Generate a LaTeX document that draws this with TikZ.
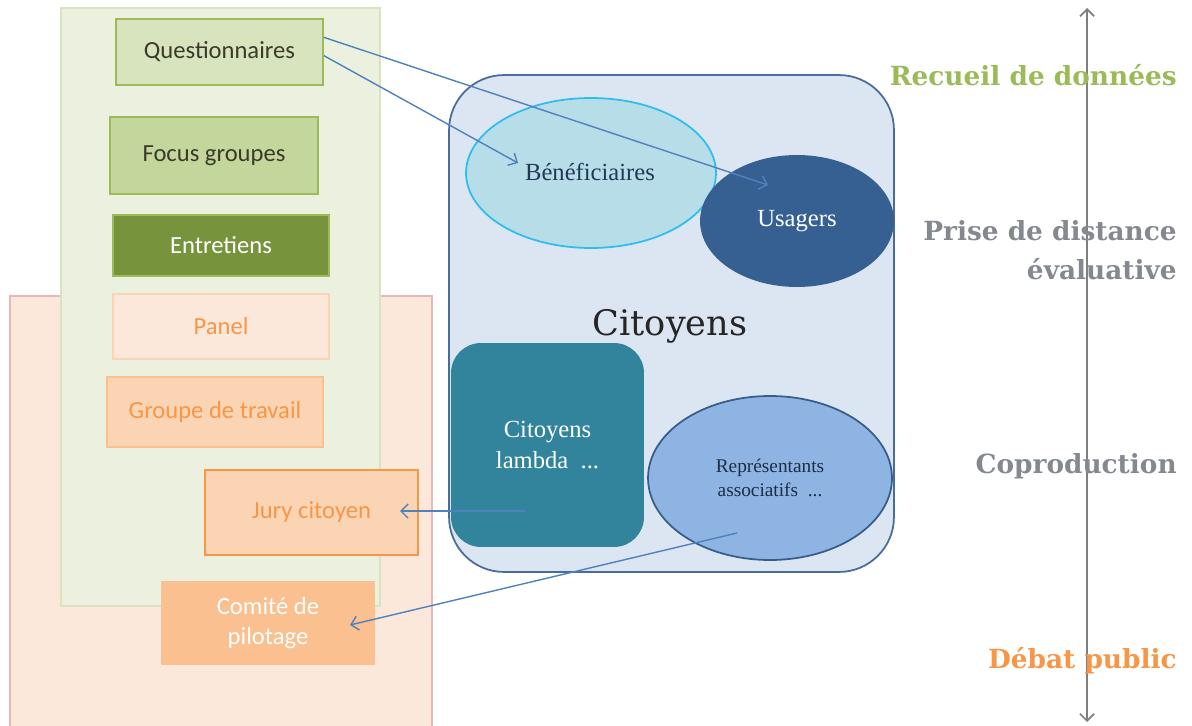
\documentclass[tikz,border=0pt]{standalone}
\usepackage{fontspec}
\setmainfont{Carlito}
\newfontfamily\capfont{DejaVu Serif}
\newfontfamily\innerfont{Liberation Serif}
\usepackage{xcolor}
\usepackage{tikz}
\usetikzlibrary{shapes.geometric,arrows.meta}

\definecolor{greenbg}{HTML}{EBF1DE}
\definecolor{greenline}{HTML}{D7E4BD}
\definecolor{greenmid}{HTML}{9BBB59}
\definecolor{greenlight}{HTML}{D7E4BD}
\definecolor{greenfocus}{HTML}{C3D69B}
\definecolor{greendark}{HTML}{77933C}
\definecolor{orangebg}{HTML}{FCE8DA}
\definecolor{orangeline}{HTML}{E6B9B8}
\definecolor{orangetext}{HTML}{F79646}
\definecolor{orangelight}{HTML}{FBD4B4}
\definecolor{orangemid}{HTML}{FAC090}
\definecolor{citbg}{HTML}{DCE6F2}
\definecolor{citline}{HTML}{4A6C9B}
\definecolor{benefill}{HTML}{B7DEE8}
\definecolor{benefline}{HTML}{2DBDF0}
\definecolor{usagerfill}{HTML}{376092}
\definecolor{lambdafill}{HTML}{31849B}
\definecolor{repfill}{HTML}{8EB4E3}
\definecolor{repline}{HTML}{385D8A}
\definecolor{arrowblue}{HTML}{4F81BD}
\definecolor{stagegray}{HTML}{84898F}
\definecolor{axisgray}{HTML}{7F7F7F}
\definecolor{boxtext}{HTML}{3A3A2A}

\tikzset{
  toolbox/.style={rectangle, inner sep=0pt, font=\fontsize{14}{17}\selectfont, align=center},
  linkarrow/.style={-{Straight Barb[length=4pt,width=8pt]}, arrowblue, line width=0.8pt},
  stagelabel/.style={anchor=east, inner sep=0pt, font=\capfont\bfseries\fontsize{15}{22.5}\selectfont, align=right}
}

\begin{document}
\begin{tikzpicture}[x=0.02cm,y=-0.02cm]
                \useasboundingbox (0,0) rectangle (1192,726);

                % Background zones
                \fill[orangebg, draw=orangeline, line width=0.8pt] (10,296) rectangle (432,740);
                \fill[greenbg, draw=greenline, line width=0.8pt] (61,8) rectangle (380,606);

                % Tools
                \node[toolbox, fill=greenlight, draw=greenmid, line width=1pt, text=boxtext, minimum width=4.14cm, minimum height=1.32cm] (quest) at (219.5,52) {Questionnaires};
                \node[toolbox, fill=greenfocus, draw=greenmid, line width=1pt, text=boxtext, minimum width=4.16cm, minimum height=1.54cm] (focus) at (214,155.5) {Focus groupes};
                \node[toolbox, fill=greendark, draw=greenmid, line width=1pt, text=white, minimum width=4.32cm, minimum height=1.22cm] (entret) at (221,245.5) {Entretiens};
                \node[toolbox, fill=orangebg, draw=orangelight, line width=1pt, text=orangetext, minimum width=4.32cm, minimum height=1.30cm] (panel) at (221,326.5) {Panel};
                \node[toolbox, fill=orangelight, draw=orangemid, line width=1pt, text=orangetext, minimum width=4.32cm, minimum height=1.40cm] (groupe) at (215,412) {Groupe de travail};
                \node[toolbox, fill=orangelight, draw=orangetext, line width=1.2pt, text=orangetext, minimum width=4.26cm, minimum height=1.70cm] (jury) at (311.5,512.5) {Jury citoyen};
                \node[toolbox, fill=orangemid, text=white, minimum width=4.28cm, minimum height=1.68cm] (comite) at (268,623) {Comité de\\pilotage};

                % Citizens
                \node[rectangle, rounded corners=1.1cm, fill=citbg, draw=citline, line width=1pt, minimum width=8.9cm, minimum height=9.94cm] (citoyens) at (671.5,323.5) {};
                \node[font=\capfont\fontsize{20}{24}\selectfont, text=black!85] (citlabel) at (670,326) {Citoyens};
                \node[ellipse, inner sep=0pt, fill=benefill, draw=benefline, line width=1pt, minimum width=5.0cm, minimum height=3.0cm] (benef) at (591,173) {};
                \node[font=\innerfont\fontsize{14}{16}\selectfont, text=repline!60!black] (beneflabel) at (590,172) {Bénéficiaires};
                \node[ellipse, inner sep=0pt, fill=usagerfill, text=white, font=\innerfont\fontsize{14}{16}\selectfont, minimum width=3.88cm, minimum height=2.64cm] (usagers) at (797,221) {Usagers};
                \node[rectangle, rounded corners=0.6cm, fill=lambdafill, text=white, align=center, font=\innerfont\fontsize{14}{18}\selectfont, minimum width=3.86cm, minimum height=4.08cm] (lambda) at (547.5,445) {Citoyens\\lambda\ \ ...};
                \node[ellipse, inner sep=0pt, fill=repfill, draw=repline, line width=1pt, align=center, text=repline!50!black, font=\innerfont\fontsize{11}{14}\selectfont, minimum width=4.88cm, minimum height=3.28cm] (repres) at (770,478) {Représentants\\associatifs\ \ ...};

                % Arrow ends inside the targets
                \coordinate (benefin) at (518,163);
                \coordinate (usagersin) at (768,185);
                \coordinate (lambdaout) at (525,511);
                \coordinate (represout) at (737,533);
                \coordinate (juryin) at (400,511);
                \coordinate (comitein) at (350,625);

                % Links
                \draw[linkarrow] (quest.8) -- (usagersin);
                \draw[linkarrow] (quest.-2) -- (benefin);
                \draw[linkarrow] (lambdaout) -- (juryin);
                \draw[linkarrow] (represout) -- (comitein);

                % Stage axis
                \coordinate (axtop) at (1087,8);
                \coordinate (axbot) at (1087,722);
                \draw[{Straight Barb[length=4pt,width=8pt]}-{Straight Barb[length=4pt,width=8pt]}, axisgray, line width=1pt] (axtop) -- (axbot);
                \node[stagelabel, text=greenmid] (recueil) at (1177,75) {Recueil de données};
                \node[stagelabel, text=stagegray] (prise) at (1177,250) {Prise de distance\\évaluative};
                \node[stagelabel, text=stagegray] (coprod) at (1177,466) {Coproduction};
                \node[stagelabel, text=orangetext] (debat) at (1177,661) {Débat public};
\end{tikzpicture}
\end{document}
